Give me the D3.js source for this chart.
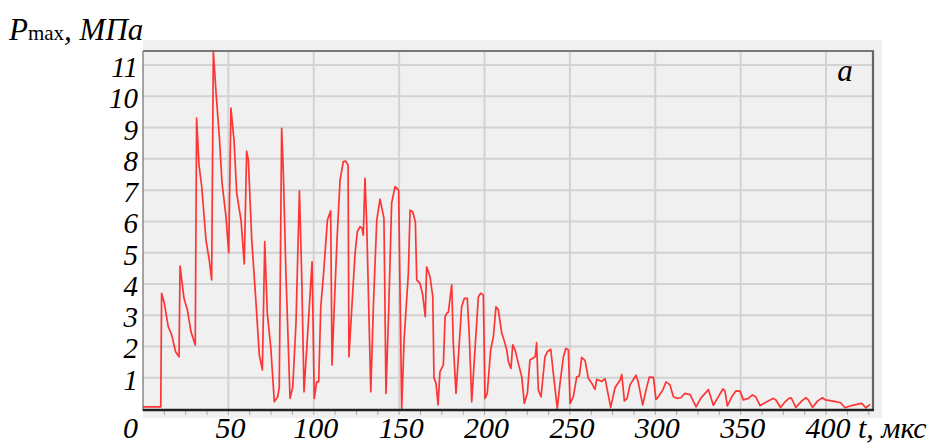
<!DOCTYPE html>
<html>
<head>
<meta charset="utf-8">
<script src="https://cdn.jsdelivr.net/npm/d3@7/dist/d3.min.js"></script>
<style>
  html, body { margin: 0; padding: 0; background: #fff; }
  svg { display: block; }
  .lbl { font-family: "Liberation Serif", "Times New Roman", serif; font-style: italic; fill: #000; }
</style>
</head>
<body>
<svg id="chart" width="937" height="444"></svg>
<script>
// Time of measurement, microseconds
const timeUs = [
  0, 10.4, 10.9, 12.5, 14.8, 16.8, 19.1, 21.1, 21.7, 24.0, 26.0, 28.1, 30.6, 31.4, 32.8, 34.4,
  36.9, 38.8, 40.2, 41.2, 42.8, 44.7, 46.3, 48.6, 50.2, 51.5, 53.3, 54.9, 57.4, 59.3, 60.7, 61.7,
  63.7, 66.2, 68.1, 69.9, 71.3, 72.8, 74.8, 76.9, 78.9, 79.8, 81.2, 82.2, 83.7, 86.1, 87.7, 89.6,
  91.6, 92.9, 94.3, 96.2, 99.0, 100.3, 101.7, 102.9, 104.1, 105.6, 108.0, 109.9, 110.7, 112.0, 113.8, 115.4,
  117.3, 118.7, 120.1, 120.6, 122.2, 124.2, 125.5, 127.1, 128.3, 129.0, 130.0, 131.0, 133.4, 134.9, 136.9, 138.8,
  141.1, 142.3, 143.9, 145.6, 147.6, 149.7, 151.5, 152.9, 155.4, 156.4, 157.9, 159.5, 160.3, 162.2, 163.8, 165.3,
  166.1, 168.1, 169.7, 170.4, 171.6, 172.8, 173.9, 175.9, 176.9, 177.9, 178.8, 180.8, 181.7, 183.3, 184.7, 186.6,
  188.2, 189.9, 191.1, 192.5, 194.4, 196.4, 197.8, 199.3, 200.3, 201.6, 203.6, 205.2, 206.7, 208.1, 210.1, 211.4,
  213.0, 214.0, 215.5, 216.5, 217.9, 219.8, 221.8, 223.3, 225.1, 226.6, 228.2, 229.7, 230.5, 231.5, 233.1, 235.4,
  236.8, 238.8, 240.3, 242.6, 244.2, 246.2, 247.7, 249.1, 250.1, 252.0, 254.0, 255.5, 256.9, 258.9, 260.8, 262.5,
  264.7, 265.7, 268.6, 270.6, 273.9, 276.4, 279.4, 280.4, 281.9, 283.5, 285.2, 288.7, 290.0, 292.6, 295.0, 296.5,
  298.9, 300.4, 301.8, 304.5, 306.3, 308.6, 310.6, 312.9, 315.0, 317.4, 320.4, 323.9, 326.6, 331.1, 334.0, 336.9,
  339.6, 340.8, 342.2, 344.8, 347.3, 349.6, 351.6, 354.5, 356.9, 358.8, 361.4, 365.3, 369.2, 370.6, 373.4, 376.0,
  378.3, 379.6, 382.3, 385.8, 388.3, 389.6, 392.1, 395.1, 397.9, 399.6, 403.3, 406.2, 408.6, 411.1, 415.0, 418.0,
  420.9, 423.3, 425.8
];

// Maximum pressure, MPa
const pressureMPa = [
  0.07, 0.07, 3.70, 3.38, 2.63, 2.37, 1.83, 1.67, 4.57, 3.54, 3.17, 2.47, 2.05, 9.30, 7.80, 7.11,
  5.40, 4.76, 4.13, 11.43, 10.1, 8.71, 7.22, 6.15, 5.00, 9.62, 8.60, 6.90, 6.04, 4.64, 8.25, 7.96,
  5.40, 3.38, 1.73, 1.25, 5.35, 3.06, 1.99, 0.23, 0.39, 0.71, 8.98, 7.54, 4.34, 0.34, 0.71, 2.74,
  6.98, 4.34, 0.55, 2.21, 4.71, 0.34, 0.87, 0.87, 3.27, 4.23, 6.04, 6.34, 1.41, 3.27, 5.62, 7.32,
  7.91, 7.93, 7.80, 1.67, 3.17, 4.98, 5.67, 5.83, 5.78, 5.56, 7.38, 5.94, 0.55, 3.27, 6.04, 6.71,
  6.10, 0.50, 3.17, 6.58, 7.11, 7.00, 0.02, 2.21, 4.34, 6.36, 6.31, 5.99, 4.13, 4.02, 3.65, 2.95,
  4.55, 4.23, 3.59, 1.00, 0.82, 0.13, 1.19, 1.41, 2.95, 3.06, 3.09, 3.97, 2.10, 0.50, 1.67, 3.27,
  3.54, 3.54, 2.31, 0.23, 1.89, 3.59, 3.70, 3.65, 0.34, 0.50, 1.89, 2.31, 3.27, 3.17, 2.42, 2.21,
  1.89, 1.51, 1.30, 2.05, 1.89, 1.46, 1.03, 0.18, 0.50, 1.57, 1.62, 1.67, 2.12, 0.61, 0.39, 1.67,
  1.83, 1.91, 1.14, 0.02, 0.82, 1.67, 1.94, 1.89, 0.18, 0.39, 1.03, 1.05, 1.65, 1.55, 0.98, 0.85,
  0.63, 0.95, 0.88, 0.97, 0.05, 0.68, 0.93, 1.10, 0.26, 0.34, 0.77, 1.08, 0.87, 0.13, 0.70, 1.02,
  1.01, 0.31, 0.39, 0.62, 0.87, 0.77, 0.39, 0.34, 0.36, 0.50, 0.46, 0.07, 0.34, 0.62, 0.12, 0.39,
  0.64, 0.58, 0.10, 0.39, 0.58, 0.57, 0.29, 0.34, 0.45, 0.39, 0.11, 0.23, 0.34, 0.29, 0.05, 0.23,
  0.34, 0.36, 0.05, 0.26, 0.36, 0.29, 0.05, 0.26, 0.36, 0.29, 0.26, 0.23, 0.20, 0.04, 0.11, 0.15,
  0.18, 0.04, 0.15
];

const yTicks = [1, 2, 3, 4, 5, 6, 7, 8, 9, 10, 11];
const xTicks = [0, 50, 100, 150, 200, 250, 300, 350, 400];
const xMinorStep = 12.5;

const svg = d3.select("#chart");

const plot = { left: 143, right: 873, top: 51, bottom: 409 };

const x = d3.scaleLinear().domain([0, 427.5]).range([plot.left, plot.right]);
const y = d3.scaleLinear().domain([0, 11.45]).range([plot.bottom, plot.top]);

// panel background (extends slightly beyond the frame at top and right)
svg.append("rect")
  .attr("x", plot.left).attr("y", 40)
  .attr("width", 882 - plot.left).attr("height", 418 - 40)
  .attr("fill", "#f0f0f0");

// grid
svg.append("g").selectAll("line").data(yTicks).join("line")
  .attr("x1", plot.left).attr("x2", plot.right)
  .attr("y1", d => y(d)).attr("y2", d => y(d))
  .attr("stroke", "#d2d2d2").attr("stroke-width", 2);

svg.append("g").selectAll("line").data(xTicks.filter(d => d > 0)).join("line")
  .attr("x1", d => x(d)).attr("x2", d => x(d))
  .attr("y1", plot.top).attr("y2", plot.bottom)
  .attr("stroke", "#d2d2d2").attr("stroke-width", 2);

// minor ticks under the time axis
const minor = d3.range(xMinorStep, 427.5, xMinorStep);
svg.append("g").selectAll("line").data(minor).join("line")
  .attr("x1", d => x(d)).attr("x2", d => x(d))
  .attr("y1", plot.bottom + 2).attr("y2", plot.bottom + 6)
  .attr("stroke", "#a8a8a8").attr("stroke-width", 1);

// frame
svg.append("line").attr("x1", plot.left).attr("x2", plot.right + 1)
  .attr("y1", plot.top).attr("y2", plot.top)
  .attr("stroke", "#777").attr("stroke-width", 2.2);
svg.append("line").attr("x1", plot.right).attr("x2", plot.right)
  .attr("y1", plot.top).attr("y2", plot.bottom + 2)
  .attr("stroke", "#666").attr("stroke-width", 2.2);
svg.append("line").attr("x1", plot.left).attr("x2", plot.left)
  .attr("y1", plot.top).attr("y2", plot.bottom + 2)
  .attr("stroke", "#888").attr("stroke-width", 1.5);

// pressure trace
const line = d3.line().x((d, i) => x(timeUs[i])).y(d => y(d));
svg.append("path")
  .datum(pressureMPa)
  .attr("d", line)
  .attr("fill", "none")
  .attr("stroke", "#ff2020")
  .attr("stroke-opacity", 0.9)
  .attr("stroke-width", 1.7)
  .attr("stroke-linejoin", "round");

// time axis line
svg.append("line").attr("x1", plot.left).attr("x2", plot.right + 1)
  .attr("y1", plot.bottom + 1).attr("y2", plot.bottom + 1)
  .attr("stroke", "#222").attr("stroke-width", 2.6);

// y tick labels
svg.append("g").selectAll("text").data(yTicks).join("text")
  .attr("class", "lbl")
  .attr("x", 138).attr("y", d => y(d) + 12)
  .attr("text-anchor", "end")
  .attr("font-size", 29)
  .text(d => d);

// x tick labels
svg.append("g").selectAll("text").data(xTicks).join("text")
  .attr("class", "lbl")
  .attr("x", d => d === 0 ? x(0) - 5 : x(d) + 2)
  .attr("y", 438)
  .attr("text-anchor", d => d === 0 ? "end" : "middle")
  .attr("font-size", 30)
  .text(d => d);

// axis titles
svg.append("text").attr("class", "lbl")
  .attr("x", 858).attr("y", 438).attr("font-size", 30)
  .text("t, мкс");

const yt = svg.append("text").attr("class", "lbl")
  .attr("x", 9).attr("y", 40).attr("font-size", 31);
yt.append("tspan").text("P");
yt.append("tspan").attr("font-style", "normal").attr("font-size", 21).text("max");
yt.append("tspan").text(", МПа");

// panel letter
svg.append("text").attr("class", "lbl")
  .attr("x", 845).attr("y", 81).attr("text-anchor", "middle")
  .attr("font-size", 31)
  .text("а");
</script>
</body>
</html>
